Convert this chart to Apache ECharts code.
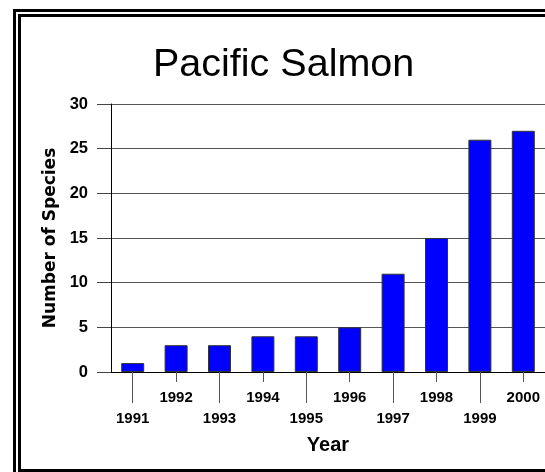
<!DOCTYPE html>
<html>
<head>
<meta charset="utf-8">
<script src="https://cdn.jsdelivr.net/npm/echarts@6/dist/echarts.min.js"></script>
<style>
  html, body { margin: 0; padding: 0; background: #fff; overflow: hidden; }
  .frame { position: absolute; border: 3px solid #000; }
  #outer { left: 13px; top: 9px; width: 600px; height: 520px; }
  #inner { left: 18px; top: 14px; width: 600px; height: 452px; }
  #main { position: absolute; left: 0; top: 0; width: 545px; height: 472px; }
</style>
</head>
<body>
<div class="frame" id="outer"></div>
<div class="frame" id="inner"></div>
<div id="main"></div>
<script>
// Pacific Salmon - number of species per year
var years = ["1991", "1992", "1993", "1994", "1995", "1996", "1997", "1998", "1999", "2000"];
var species = [1, 3, 3, 4, 4, 5, 11, 15, 26, 27];
var yMin = 0, yMax = 30, yStep = 5;

(function () {
  var myChart = echarts.init(document.getElementById("main"));
  var font = "'Liberation Sans', Arial, sans-serif";
  var option = {
    backgroundColor: "transparent",
    animation: false,
    title: {
      text: "Pacific Salmon",
      left: 148,
      top: 40,
      textStyle: {
        fontFamily: font,
        fontSize: 39.5,
        fontWeight: "normal",
        color: "#000",
      },
    },
    grid: {
      left: 111,
      top: 104,
      right: -1,
      bottom: 100,
      containLabel: false,
    },
    xAxis: [
      {
        // lower labels: 1991, 1993 ... with long ticks
        type: "category",
        position: "bottom",
        data: years,
        axisLine: { show: true, lineStyle: { color: "#000", width: 1 } },
        axisTick: {
          show: true,
          alignWithLabel: true,
          length: 31,
          interval: function (i) { return i % 2 === 0; },
          lineStyle: { color: "#555" },
        },
        axisLabel: {
          interval: function (i) { return i % 2 === 0; },
          margin: 39,
          fontFamily: font,
          fontSize: 15,
          fontWeight: "bold",
          color: "#000",
        },
        name: "Year",
        nameLocation: "middle",
        nameGap: 63,
        nameTextStyle: {
          fontFamily: font,
          fontSize: 20,
          fontWeight: "bold",
          color: "#000",
        },
      },
      {
        // upper labels: 1992, 1994 ... with short ticks
        type: "category",
        position: "bottom",
        data: years,
        axisLine: { show: false },
        axisTick: {
          show: true,
          alignWithLabel: true,
          length: 10,
          interval: function (i) { return i % 2 === 1; },
          lineStyle: { color: "#555" },
        },
        axisLabel: {
          interval: function (i) { return i % 2 === 1; },
          margin: 18,
          fontFamily: font,
          fontSize: 15,
          fontWeight: "bold",
          color: "#000",
        },
      },
    ],
    yAxis: {
      type: "value",
      min: yMin,
      max: yMax,
      interval: yStep,
      axisLine: { show: true, lineStyle: { color: "#000", width: 1 } },
      axisTick: { show: true, length: 14, lineStyle: { color: "#444" } },
      splitLine: { show: true, lineStyle: { color: "#555", width: 1 } },
      axisLabel: {
        margin: 23,
        fontFamily: font,
        fontSize: 16.5,
        fontWeight: "bold",
        color: "#000",
      },
      name: "Number of Species",
      nameLocation: "middle",
      nameGap: 49,
      nameTextStyle: {
        fontFamily: "'DejaVu Sans', sans-serif",
        fontSize: 17,
        fontWeight: "bold",
        color: "#000",
      },
    },
    series: [
      {
        type: "bar",
        xAxisIndex: 0,
        data: species,
        barWidth: 23,
        itemStyle: {
          color: "#0000ff",
          borderColor: "#333",
          borderWidth: 1,
        },
      },
    ],
  };
  myChart.setOption(option);
  window.addEventListener("resize", function () {
    myChart.resize();
  });
})();
</script>
</body>
</html>
